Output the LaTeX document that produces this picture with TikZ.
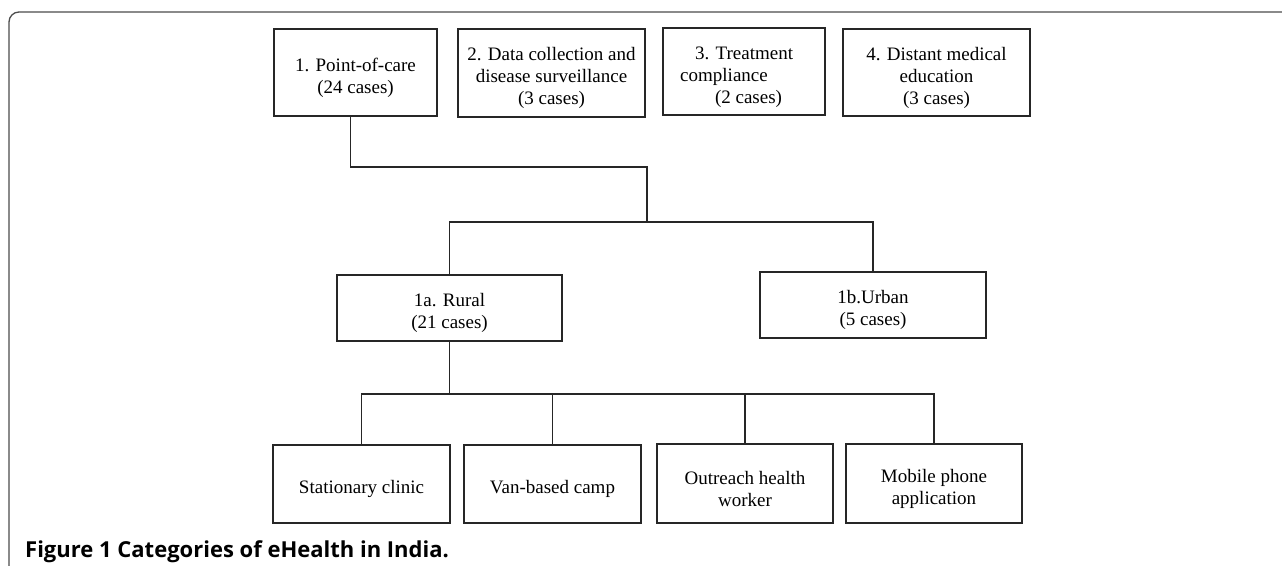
\documentclass[tikz,border=0pt]{standalone}
\usepackage{fontspec}
\setmainfont{Liberation Serif}
\newfontfamily\capfont{Open Sans}
\usepackage{tikz}
\colorlet{boxline}{black!85}
\colorlet{frameline}{black!70}
\newcommand\boxstrut{\rule{0pt}{24pt}}
\tikzset{
	catbox/.style={draw=boxline, line width=1.1pt, inner sep=0pt, align=center,
		font=\fontsize{19}{22}\selectfont},
	link/.style={draw=boxline, line width=1.1pt},
}

\begin{document}
\begin{tikzpicture}[x=1pt, y=-1pt]
					\useasboundingbox[fill=white] (0,0) rectangle (1282,565);
					\draw[frameline, line width=1.3pt, rounded corners=10pt] (9,566) -- (9,12) -- (1283,12);
					
					\begin{scope}
						\node[catbox, minimum width=163pt, minimum height=87pt] (p1) at (355.5,72.5) {\boxstrut 1. Point-of-care\\(24 cases)};
						\node[catbox, minimum width=187pt, minimum height=88pt] (p2) at (551.5,73) {\boxstrut 2. Data collection and\\disease surveillance\\(3 cases)};
						\node[catbox, minimum width=162pt, minimum height=87pt] (p3) at (744,71.5) {\boxstrut 3. Treatment\\compliance\rule{40pt}{0pt}\\\rule{9pt}{0pt}(2 cases)};
						\node[catbox, minimum width=187pt, minimum height=87pt] (p4) at (936.5,72.5) {\boxstrut 4. Distant medical\\education\\(3 cases)};
						
						\node[catbox, minimum width=225pt, minimum height=66pt] (rural) at (449.5,308) {\boxstrut 1a. Rural\\(21 cases)};
						\node[catbox, minimum width=226pt, minimum height=66pt] (urban) at (873,305) {\boxstrut 1b.Urban\\(5 cases)};
						
						\node[catbox, minimum width=177pt, minimum height=78pt] (clinic) at (361.5,484) {\boxstrut Stationary clinic};
						\node[catbox, minimum width=177pt, minimum height=78pt] (van) at (552.5,484) {\boxstrut Van-based camp};
						\node[catbox, minimum width=176pt, minimum height=79pt] (outreach) at (745,483.5) {\boxstrut Outreach health\\worker};
						\node[catbox, minimum width=176pt, minimum height=79pt] (mobile) at (934,483.5) {\boxstrut Mobile phone\\application};
					\end{scope}
					
					\coordinate (j1) at (647,167);
					\coordinate (j2) at (647,222);
					\coordinate (k1) at (449.5,394);
					
					\draw[link] ([xshift=-5pt]p1.south) |- (j1) -- (j2);
					\draw[link] (rural.north) |- (j2) -| (urban.north);
					\draw[link] (rural.south) -- (k1);
					\draw[link] (clinic.north) |- (k1) -| (mobile.north);
					\draw[link] (van.north) -- (van.north |- k1);
					\draw[link] (outreach.north) -- (outreach.north |- k1);
					
					\node[anchor=base west, inner sep=0pt, font=\capfont\bfseries\fontsize{22}{25}\selectfont] (caption) at (25,557) {Figure 1 Categories of eHealth in India.};
				\end{tikzpicture}
\end{document}
